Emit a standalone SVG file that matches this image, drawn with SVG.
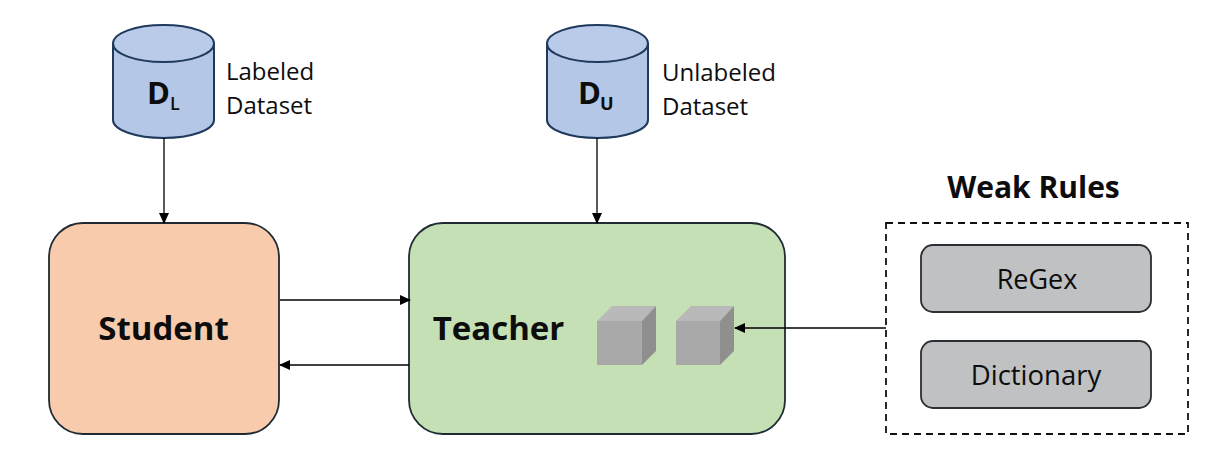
<svg xmlns="http://www.w3.org/2000/svg" width="1221" height="467" viewBox="0 0 1221 467">
<style>
text{font-family:"Open Sans","Noto Sans","Liberation Sans",sans-serif;fill:#0d0d0d}
.b{font-weight:700}
.box{stroke:#1f2a33;stroke-width:1.8}
.cyl{fill:#b4c7e7;stroke:#1f3a5c;stroke-width:2}
.top{fill:#b9cbe9;stroke:#1f3a5c;stroke-width:2}
.rule{fill:#bfc1c3;stroke:#2a2f33;stroke-width:1.8}
.con{fill:none;stroke:#000;stroke-width:1.3}
.cf{fill:#a9a9a9}.ct{fill:#b9b9b9}.cs{fill:#8f8f8f}
</style>
<defs><marker id="a" markerWidth="11" markerHeight="10" refX="10" refY="5" orient="auto" markerUnits="userSpaceOnUse"><path d="M0 0L11 5L0 10Z" fill="#000"/></marker></defs>
<rect width="1221" height="467" fill="#fff"/>
<g id="dl">
<path class="cyl" d="M113 44V120C113 130 136 138 163.500 138S214 130 214 120V44Z"/>
<ellipse class="top" cx="163.500" cy="43.500" rx="50.500" ry="18.500"/>
<text class="b" x="147" y="104" font-size="31">D</text><text x="170" y="110" font-size="18" font-weight="600">L</text>
<text x="226" y="80" font-size="24">Labeled</text><text x="226" y="114" font-size="24">Dataset</text>
</g>
<g id="du">
<path class="cyl" d="M547 44V120C547 130 570 138 597.500 138S648 130 648 120V44Z"/>
<ellipse class="top" cx="597.500" cy="43.500" rx="50.500" ry="18.500"/>
<text class="b" x="578" y="104" font-size="31">D</text><text x="600" y="110" font-size="18" font-weight="700">U</text>
<text x="662" y="81" font-size="24">Unlabeled</text><text x="662" y="115" font-size="24">Dataset</text>
</g>
<g id="student">
<rect class="box" x="49" y="223" width="230" height="211" rx="34" fill="#f8cbad"/>
<text class="b" x="163.500" y="340" font-size="33" text-anchor="middle">Student</text>
</g>
<g id="teacher">
<rect class="box" x="409" y="223" width="376" height="211" rx="34" fill="#c5e0b4"/>
<text class="b" x="498.500" y="340" font-size="33" text-anchor="middle">Teacher</text>
<g id="cube1">
<path class="ct" d="M597 321L612 306H656L642 321Z"/><path class="cf" d="M597 321H642V365H597Z"/><path class="cs" d="M642 321L656 306V351L642 365Z"/>
</g>
<g id="cube2">
<path class="ct" d="M676 321L691 306H734L720 321Z"/><path class="cf" d="M676 321H720V365H676Z"/><path class="cs" d="M720 321L734 306V351L720 365Z"/>
</g>
</g>
<g id="weak-rules">
<text class="b" x="1033.500" y="198" font-size="30" text-anchor="middle">Weak Rules</text>
<rect x="886" y="223" width="302" height="211" fill="none" stroke="#111" stroke-width="1.8" stroke-dasharray="7 5"/>
</g>
<g id="regex">
<rect class="rule" x="921" y="245" width="230" height="67" rx="12"/>
<text x="1037" y="289" font-size="27" text-anchor="middle">ReGex</text>
</g>
<g id="dictionary">
<rect class="rule" x="921" y="341" width="230" height="67" rx="12"/>
<text x="1036" y="385" font-size="27.500" text-anchor="middle">Dictionary</text>
</g>
<g id="connectors">
<path class="con" d="M164 138V223" marker-end="url(#a)"/>
<path class="con" d="M597 138V223" marker-end="url(#a)"/>
<path class="con" d="M280 300H410" marker-end="url(#a)"/>
<path class="con" d="M409 365H280" marker-end="url(#a)"/>
<path class="con" d="M886 328H735" marker-end="url(#a)"/>
</g>
</svg>
